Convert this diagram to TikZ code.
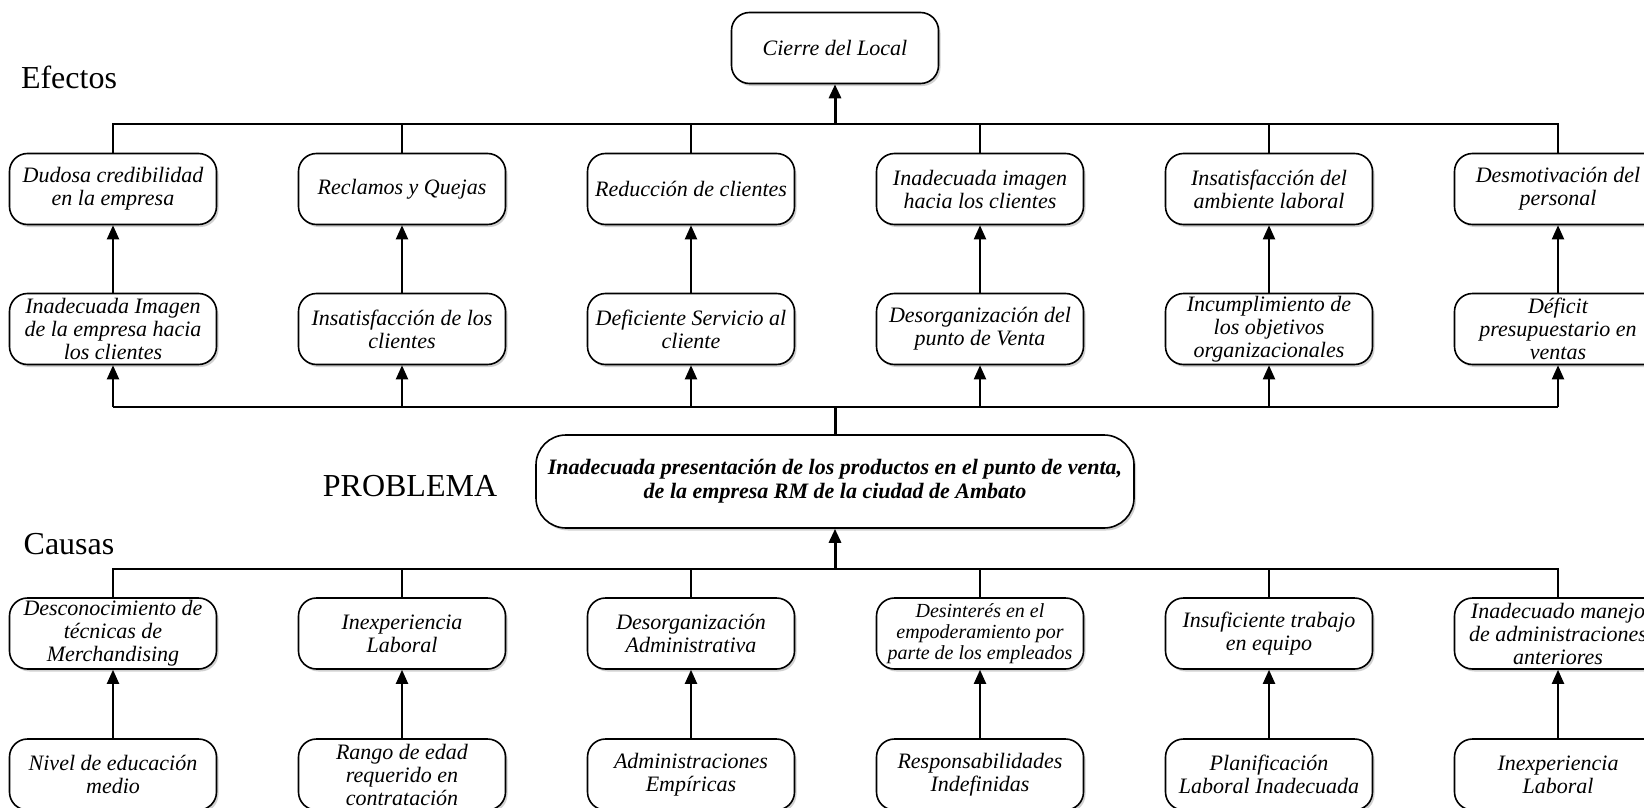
\documentclass[tikz,border=0pt]{standalone}
\usepackage{fontspec}
\setmainfont{Liberation Serif}
\usetikzlibrary{arrows.meta,shadows}
\tikzset{
  caja/.style={draw,line width=1.6pt,rounded corners=18pt,fill=white,
    minimum width=207pt,minimum height=71pt,align=center,inner sep=1pt,
    font=\fontsize{22}{23}\selectfont\itshape,
    drop shadow={shadow xshift=2pt,shadow yshift=-2.5pt,fill=black!30,opacity=.6}},
  flecha/.style={line width=2pt,-{Triangle[width=12pt,length=14pt]}},
  linea/.style={line width=2pt},
  titulo/.style={font=\fontsize{32}{36}\selectfont}
}
\begin{document}
\begin{tikzpicture}[x=1pt,y=-1pt]
\useasboundingbox (0,0) rectangle (1644,808);
\clip (0,0) rectangle (1644,808);
% efectos
\node[caja] (cierre) at (835,48) {Cierre del Local};
\node[titulo] (efectos) at (69,77) {Efectos};
\node[caja] (e1) at (113,189) {Dudosa credibilidad\\en la empresa};
\node[caja] (e2) at (402,189) {Reclamos y Quejas};
\node[caja] (e3) at (691,189) {Reducción de clientes};
\node[caja] (e4) at (980,189) {Inadecuada imagen\\hacia los clientes};
\node[caja] (e5) at (1269,189) {Insatisfacción del\\ambiente laboral};
\node[caja] (e6) at (1558,189) {Desmotivación del\\personal};
\node[caja] (d1) at (113,329) {Inadecuada Imagen\\de la empresa hacia\\los clientes};
\node[caja] (d2) at (402,329) {Insatisfacción de los\\clientes};
\node[caja] (d3) at (691,329) {Deficiente Servicio al\\cliente};
\node[caja] (d4) at (980,329) {Desorganización del\\punto de Venta};
\node[caja] (d5) at (1269,329) {Incumplimiento de\\los objetivos\\organizacionales};
\node[caja] (d6) at (1558,329) {Déficit\\presupuestario en\\ventas};
% problema
\node[titulo] (lblproblema) at (410,486) {PROBLEMA};
\node[caja,minimum width=598pt,minimum height=93pt,rounded corners=30pt,
  font=\fontsize{22}{24}\selectfont\bfseries\itshape] (problema) at (835,481.5)
  {Inadecuada presentación de los productos en el punto de venta,\\de la empresa RM de la ciudad de Ambato};
% causas
\node[titulo] (causas) at (69,544) {Causas};
\node[caja] (c1) at (113,633.5) {Desconocimiento de\\técnicas de\\Merchandising};
\node[caja] (c2) at (402,633.5) {Inexperiencia\\Laboral};
\node[caja] (c3) at (691,633.5) {Desorganización\\Administrativa};
\node[caja,font=\fontsize{20}{21}\selectfont\itshape] (c4) at (980,633.5) {Desinterés en el\\empoderamiento por\\parte de los empleados};
\node[caja] (c5) at (1269,633.5) {Insuficiente trabajo\\en equipo};
\node[caja] (c6) at (1558,633.5) {Inadecuado manejo\\de administraciones\\anteriores};
\node[caja] (r1) at (113,774.5) {Nivel de educación\\medio};
\node[caja] (r2) at (402,774.5) {Rango de edad\\requerido en\\contratación};
\node[caja] (r3) at (691,774.5) {Administraciones\\Empíricas};
\node[caja] (r4) at (980,774.5) {Responsabilidades\\Indefinidas};
\node[caja] (r5) at (1269,774.5) {Planificación\\Laboral Inadecuada};
\node[caja] (r6) at (1558,774.5) {Inexperiencia\\Laboral};
\coordinate (busefe) at (835,124);
\coordinate (busmed) at (835,407);
\coordinate (buscau) at (835,569);
% conectores de efectos
\draw[linea] (e1.north) |- (busefe) -| (e6.north);
\draw[linea] (e2.north) -- (e2.north |- busefe);
\draw[linea] (e3.north) -- (e3.north |- busefe);
\draw[linea] (e4.north) -- (e4.north |- busefe);
\draw[linea] (e5.north) -- (e5.north |- busefe);
\draw[flecha,line width=3pt] (busefe) -- (cierre.south);
\draw[flecha] (d1) -- (e1);
\draw[flecha] (d2) -- (e2);
\draw[flecha] (d3) -- (e3);
\draw[flecha] (d4) -- (e4);
\draw[flecha] (d5) -- (e5);
\draw[flecha] (d6) -- (e6);
\draw[linea] (d1.south |- busmed) -- (d6.south |- busmed);
\draw[flecha] (d1.south |- busmed) -- (d1.south);
\draw[flecha] (d2.south |- busmed) -- (d2.south);
\draw[flecha] (d3.south |- busmed) -- (d3.south);
\draw[flecha] (d4.south |- busmed) -- (d4.south);
\draw[flecha] (d5.south |- busmed) -- (d5.south);
\draw[flecha] (d6.south |- busmed) -- (d6.south);
\draw[line width=3pt] (problema.north) -- (busmed);
% conectores de causas
\draw[linea] (c1.north) |- (buscau) -| (c6.north);
\draw[linea] (c2.north) -- (c2.north |- buscau);
\draw[linea] (c3.north) -- (c3.north |- buscau);
\draw[linea] (c4.north) -- (c4.north |- buscau);
\draw[linea] (c5.north) -- (c5.north |- buscau);
\draw[flecha,line width=3pt] (buscau) -- (problema.south);
\draw[flecha] (r1) -- (c1);
\draw[flecha] (r2) -- (c2);
\draw[flecha] (r3) -- (c3);
\draw[flecha] (r4) -- (c4);
\draw[flecha] (r5) -- (c5);
\draw[flecha] (r6) -- (c6);
\end{tikzpicture}
\end{document}
